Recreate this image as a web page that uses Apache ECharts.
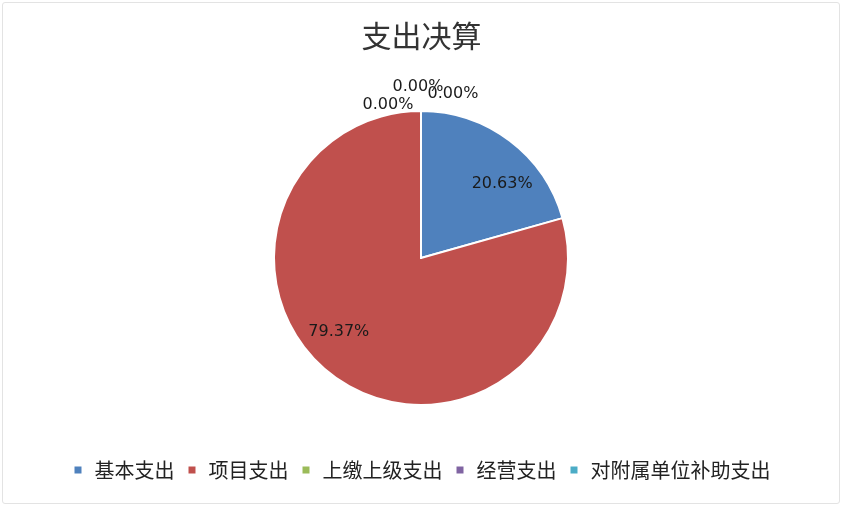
<!DOCTYPE html>
<html>
<head>
<meta charset="utf-8">
<script src="https://cdn.jsdelivr.net/npm/echarts@6/dist/echarts.min.js"></script>
<style>
html,body{margin:0;padding:0;background:#fff;}
#frame{position:absolute;left:2px;top:2px;width:838px;height:502px;border:1px solid #e3e3e3;border-radius:3px;box-sizing:border-box;}
#chart{position:absolute;left:0;top:0;width:843px;height:507px;}
</style>
</head>
<body>
<div id="frame"></div>
<div id="chart"></div>
<script>
const titleText = '支出决算';
const categories = ['基本支出', '项目支出', '上缴上级支出', '经营支出', '对附属单位补助支出'];
const values = [20.63, 79.37, 0, 0, 0];
const colors = ['#4F81BD', '#C0504D', '#9BBB59', '#8064A2', '#4BACC6'];
// label nudges from the default inside position
const labelShift = [[35, -13], [-36, 13], [-33, -77], [-3, -95], [32, -88]];

const chart = echarts.init(document.getElementById('chart'), null, {renderer: 'canvas'});
chart.setOption({
  animation: false,
  color: colors,
  title: {
    text: titleText,
    left: 'center',
    top: 16,
    textStyle: {fontFamily: 'Noto Sans CJK SC', fontSize: 30, fontWeight: 'normal', color: '#333'}
  },
  legend: {
    data: categories,
    left: 'center',
    top: 455,
    icon: 'rect',
    itemWidth: 9,
    itemHeight: 9,
    itemGap: 12,
    textStyle: {fontFamily: 'Noto Sans CJK SC', fontSize: 20, color: '#222', padding: [0, 0, 0, 7]}
  },
  series: [{
    type: 'pie',
    center: [421, 258],
    radius: [0, 147],
    startAngle: 90,
    clockwise: true,
    data: categories.map((c, i) => ({name: c, value: values[i]})),
    itemStyle: {borderColor: '#fff', borderWidth: 2},
    label: {
      show: true,
      position: 'inside',
      formatter: p => p.value.toFixed(2) + '%',
      fontFamily: 'DejaVu Sans',
      fontSize: 16,
      color: '#1a1a1a'
    },
    labelLine: {show: false},
    labelLayout: p => ({dx: labelShift[p.dataIndex][0], dy: labelShift[p.dataIndex][1]}),
    emphasis: {disabled: true}
  }]
});
</script>
</body>
</html>
